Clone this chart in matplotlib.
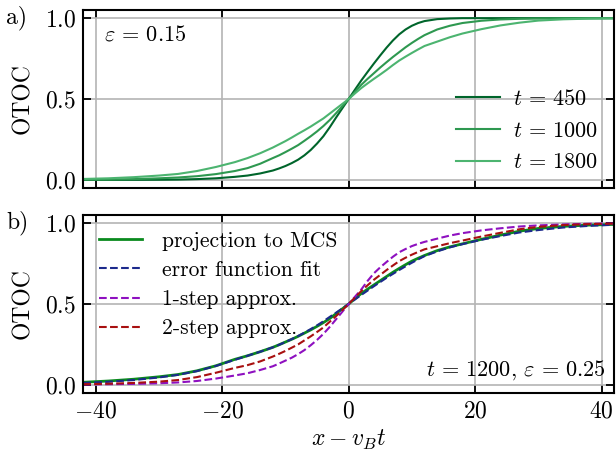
import numpy as np
import matplotlib
matplotlib.use("Agg")
import matplotlib.pyplot as plt

plt.rcParams['font.family'] = 'serif'
plt.rcParams['font.serif'] = ['cmr10', 'DejaVu Serif']
plt.rcParams['mathtext.fontset'] = 'cm'
plt.rcParams['axes.formatter.use_mathtext'] = True
plt.rcParams['font.size'] = 17

# abscissa x - v_B t
x = [-42, -38, -34, -30, -27, -24, -21, -18, -16, -14, -12, -11, -10, -9, -8, -7, -6, -5, -4, -3, -2, -1, 0,
     1, 2, 3, 4, 5, 6, 7, 8, 9, 10, 11, 12, 14, 16, 18, 21, 24, 27, 30, 34, 38, 42]

# panel a) eps = 0.15
otoc_t450 = [0.0, 0.0, 0.0005, 0.001, 0.002, 0.005, 0.01, 0.019, 0.027, 0.04, 0.058, 0.071, 0.086, 0.104, 0.125,
             0.152, 0.185, 0.225, 0.27, 0.325, 0.385, 0.443, 0.5,
             0.558, 0.615, 0.668, 0.72, 0.77, 0.818, 0.862, 0.9, 0.93, 0.953, 0.97, 0.982, 0.994, 0.998, 1.0,
             1.0, 1.0, 1.0, 1.0, 1.0, 1.0, 1.0]
otoc_t1000 = [0.001, 0.002, 0.005, 0.01, 0.015, 0.023, 0.036, 0.055, 0.073, 0.1, 0.135, 0.152, 0.172, 0.193, 0.215,
              0.242, 0.27, 0.3, 0.333, 0.37, 0.412, 0.456, 0.5,
              0.545, 0.588, 0.625, 0.66, 0.695, 0.728, 0.76, 0.79, 0.82, 0.847, 0.872, 0.895, 0.93, 0.953, 0.97,
              0.984, 0.992, 0.996, 0.998, 1.0, 1.0, 1.0]
otoc_t1800 = [0.006, 0.01, 0.017, 0.027, 0.037, 0.055, 0.08, 0.11, 0.135, 0.165, 0.2, 0.22, 0.24, 0.262, 0.285,
              0.307, 0.33, 0.355, 0.38, 0.41, 0.44, 0.47, 0.5,
              0.535, 0.568, 0.597, 0.625, 0.652, 0.68, 0.71, 0.738, 0.762, 0.785, 0.807, 0.828, 0.855, 0.882, 0.905,
              0.932, 0.955, 0.972, 0.985, 0.993, 0.997, 0.999]
labels_a = [r'$t\,=\,450$', r'$t\,=\,1000$', r'$t\,=\,1800$']
colors_a = ['#00652b', '#2e9850', '#4cb470']

# panel b) t = 1200, eps = 0.25
otoc_mcs = [0.016, 0.024, 0.035, 0.05, 0.064, 0.087, 0.118, 0.158, 0.18, 0.205, 0.232, 0.248, 0.265, 0.282, 0.3,
            0.32, 0.34, 0.362, 0.385, 0.41, 0.44, 0.47, 0.5,
            0.533, 0.565, 0.592, 0.618, 0.644, 0.67, 0.696, 0.72, 0.743, 0.765, 0.783, 0.8, 0.83, 0.853, 0.872,
            0.9, 0.926, 0.95, 0.967, 0.98, 0.988, 0.992]
otoc_erf = [0.012, 0.019, 0.03, 0.046, 0.062, 0.085, 0.117, 0.155, 0.18, 0.205, 0.232, 0.248, 0.265, 0.283, 0.302,
            0.323, 0.345, 0.368, 0.393, 0.42, 0.446, 0.473, 0.5,
            0.528, 0.556, 0.583, 0.61, 0.636, 0.662, 0.686, 0.71, 0.733, 0.755, 0.776, 0.796, 0.825, 0.85, 0.87,
            0.897, 0.92, 0.942, 0.957, 0.973, 0.983, 0.99]
otoc_1step = [0.002, 0.004, 0.006, 0.01, 0.015, 0.024, 0.039, 0.058, 0.072, 0.092, 0.115, 0.132, 0.15, 0.168, 0.19,
              0.215, 0.245, 0.278, 0.315, 0.358, 0.405, 0.452, 0.5,
              0.545, 0.59, 0.643, 0.69, 0.727, 0.76, 0.792, 0.82, 0.84, 0.858, 0.872, 0.884, 0.904, 0.923, 0.938,
              0.955, 0.968, 0.979, 0.986, 0.992, 0.996, 0.998]
otoc_2step = [0.004, 0.007, 0.012, 0.02, 0.03, 0.048, 0.075, 0.105, 0.122, 0.145, 0.175, 0.192, 0.21, 0.23, 0.25,
              0.275, 0.3, 0.327, 0.355, 0.39, 0.425, 0.462, 0.5,
              0.54, 0.58, 0.616, 0.65, 0.68, 0.71, 0.738, 0.765, 0.786, 0.805, 0.822, 0.838, 0.857, 0.876, 0.892,
              0.917, 0.94, 0.962, 0.977, 0.988, 0.994, 0.997]

fig = plt.figure(figsize=(6.16, 4.58), dpi=100)
ax1 = fig.add_axes([0.135, 0.5895, 0.862, 0.3885])
ax2 = fig.add_axes([0.135, 0.142, 0.862, 0.3885])

for ax in (ax1, ax2):
    ax.set_xlim(-42, 42)
    ax.set_ylim(-0.05, 1.05)
    ax.set_xticks([-40, -20, 0, 20, 40])
    ax.set_yticks([0.0, 0.5, 1.0])
    ax.yaxis.set_major_formatter(matplotlib.ticker.FormatStrFormatter('$%.1f$'))
    ax.grid(True, color='#b4b4b4', linewidth=1.2)
    ax.set_axisbelow(True)
    ax.tick_params(direction='in', top=True, right=True, length=6, width=1.3, pad=5)
    for s in ax.spines.values():
        s.set_linewidth(1.5)
    ax.set_ylabel('OTOC', labelpad=8)

# a)
for ys, lab, c in zip([otoc_t450, otoc_t1000, otoc_t1800], labels_a, colors_a):
    ax1.plot(x, ys, color=c, lw=1.5, label=lab)
ax1.tick_params(labelbottom=False)
ax1.legend(loc='lower right', frameon=False, borderaxespad=0.3, labelspacing=0.55, fontsize=16,
           handlelength=2.0, handletextpad=0.6)
ax1.text(0.04, 0.92, r'$\varepsilon\,=\,0.15$', transform=ax1.transAxes, ha='left', va='top', fontsize=16)
ax1.text(-0.145, 0.955, 'a)', transform=ax1.transAxes, ha='left', va='center', fontsize=17)

# b)
ax2.plot(x, otoc_mcs, color='#0a8a1e', lw=2.0, label='projection to MCS')
ax2.plot(x, otoc_erf, color='#1c2a8c', lw=1.5, ls='--', label='error function fit')
ax2.plot(x, otoc_1step, color='#8e10c0', lw=1.5, ls='--', label='1-step approx.')
ax2.plot(x, otoc_2step, color='#a81010', lw=1.5, ls='--', label='2-step approx.')
ax2.legend(loc='upper left', frameon=False, borderaxespad=0.35, labelspacing=0.45, fontsize=15.5,
           handlelength=2.0, handletextpad=0.9)
ax2.text(0.985, 0.06, r'$t\,=\,1200$, $\varepsilon\,=\,0.25$', transform=ax2.transAxes, ha='right',
         va='bottom', fontsize=16)
ax2.text(-0.145, 0.955, 'b)', transform=ax2.transAxes, ha='left', va='center', fontsize=17)
ax2.set_xlabel(r'$x-v_Bt$', labelpad=4)

fig.savefig('out.png', dpi=100)
